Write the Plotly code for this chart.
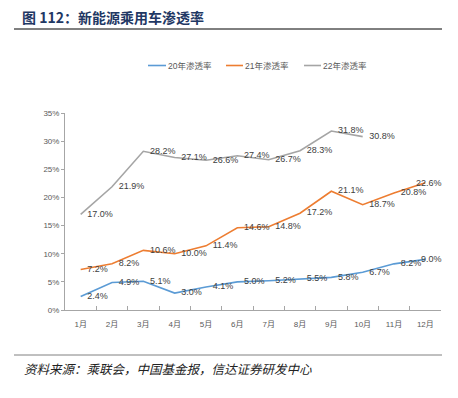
import plotly.graph_objects as go

months = ["1月", "2月", "3月", "4月", "5月", "6月", "7月", "8月", "9月", "10月", "11月", "12月"]
y2020 = [2.4, 4.9, 5.1, 3.0, 4.1, 5.0, 5.2, 5.5, 5.8, 6.7, 8.2, 9.0]
y2021 = [7.2, 8.2, 10.6, 10.0, 11.4, 14.6, 14.8, 17.2, 21.1, 18.7, 20.8, 22.6]
y2022 = [17.0, 21.9, 28.2, 27.1, 26.6, 27.4, 26.7, 28.3, 31.8, 30.8]
series_names = ["20年渗透率", "21年渗透率", "22年渗透率"]
colors = ["#5B9BD5", "#ED7D31", "#A5A5A5"]

# page offset (browser body margin)
OFF = 8
W, H = 450, 390
L, R, T, B = 57, 17, 105, 88
pw, ph = W - L - R, H - T - B

def px(x):
    return (x - OFF - L) / pw

def py(y):
    return (H - B - (y - OFF)) / ph

FONT = "Liberation Sans, Arial, Noto Sans CJK SC, sans-serif"
CJK = "Noto Sans CJK SC, sans-serif"

fig = go.Figure()
for name, vals, c in zip(series_names, [y2020, y2021, y2022], colors):
    labels = [f"{v:.1f}%" for v in vals]
    full = len(vals) == len(months)
    if full:
        labels[-1] = ""  # last label placed inside the plot area (see annotation below)
    fig.add_trace(go.Scatter(
        x=months[:len(vals)], y=vals, name=name, mode="lines+markers+text",
        line=dict(color=c, width=1.6),
        marker=dict(size=9, color="rgba(0,0,0,0)"),
        text=labels, textposition="middle right",
        textfont=dict(size=9, color="#404040", family=FONT),
        cliponaxis=False, showlegend=False,
    ))
    if full:
        fig.add_annotation(x=months[-1], y=vals[-1], xref="x", yref="y",
                           text=f"{vals[-1]:.1f}%", showarrow=False,
                           xanchor="right", yanchor="middle", xshift=19,
                           font=dict(size=9, color="#404040", family=FONT))

fig.update_layout(
    width=W, height=H,
    margin=dict(l=L, r=R, t=T, b=B),
    paper_bgcolor="white", plot_bgcolor="white",
    font=dict(family=FONT, size=8, color="#595959"),
    title=dict(text="<b>图 112：新能源乘用车渗透率</b>", xref="container", yref="container",
               x=(22 - OFF) / W, xanchor="left", y=1 - (18 - OFF) / H, yanchor="middle",
               font=dict(size=14, color="#1F3864", family=CJK)),
    xaxis=dict(type="category", categoryorder="array", categoryarray=months,
               range=[-0.5, 11.5], tickson="boundaries", ticks="inside", ticklen=4,
               tickcolor="#A6A6A6", showline=True, linecolor="#A6A6A6", linewidth=1,
               showgrid=False, ticklabelstandoff=6, tickfont=dict(size=8, color="#595959")),
    yaxis=dict(range=[0, 35], dtick=5, ticksuffix="%", ticks="outside", ticklen=3,
               tickcolor="#A6A6A6", showline=True, linecolor="#A6A6A6", linewidth=1,
               showgrid=False, zeroline=False, tickfont=dict(size=8, color="#595959")),
)

# manual legend
leg_line_x = [(148, 166), (226, 243), (304, 321)]
leg_text_x = [167, 244, 322]
leg_y = 65.5
for (x0, x1), tx, name, c in zip(leg_line_x, leg_text_x, series_names, colors):
    fig.add_shape(type="line", xref="paper", yref="paper", x0=px(x0), x1=px(x1),
                  y0=py(leg_y), y1=py(leg_y), line=dict(color=c, width=1.6))
    fig.add_annotation(xref="paper", yref="paper", x=px(tx), y=py(leg_y), xanchor="left",
                       yanchor="middle", text=name, showarrow=False, xshift=-1,
                       font=dict(size=8.5, color="#595959", family=FONT))

fig.add_shape(type="line", xref="paper", yref="paper", x0=px(14), x1=px(442), y0=py(29), y1=py(29),
              line=dict(color="#000000", width=1))
fig.add_shape(type="line", xref="paper", yref="paper", x0=px(14), x1=px(442), y0=py(355), y1=py(355),
              line=dict(color="#808080", width=1))
fig.add_annotation(xref="paper", yref="paper", x=px(23), y=py(368), xanchor="left", yanchor="middle",
                   text="<i>资料来源：乘联会，中国基金报，信达证券研发中心</i>", showarrow=False,
                   xshift=-1, font=dict(size=12.5, color="#222222", family=CJK))

fig.write_html("out.html")
